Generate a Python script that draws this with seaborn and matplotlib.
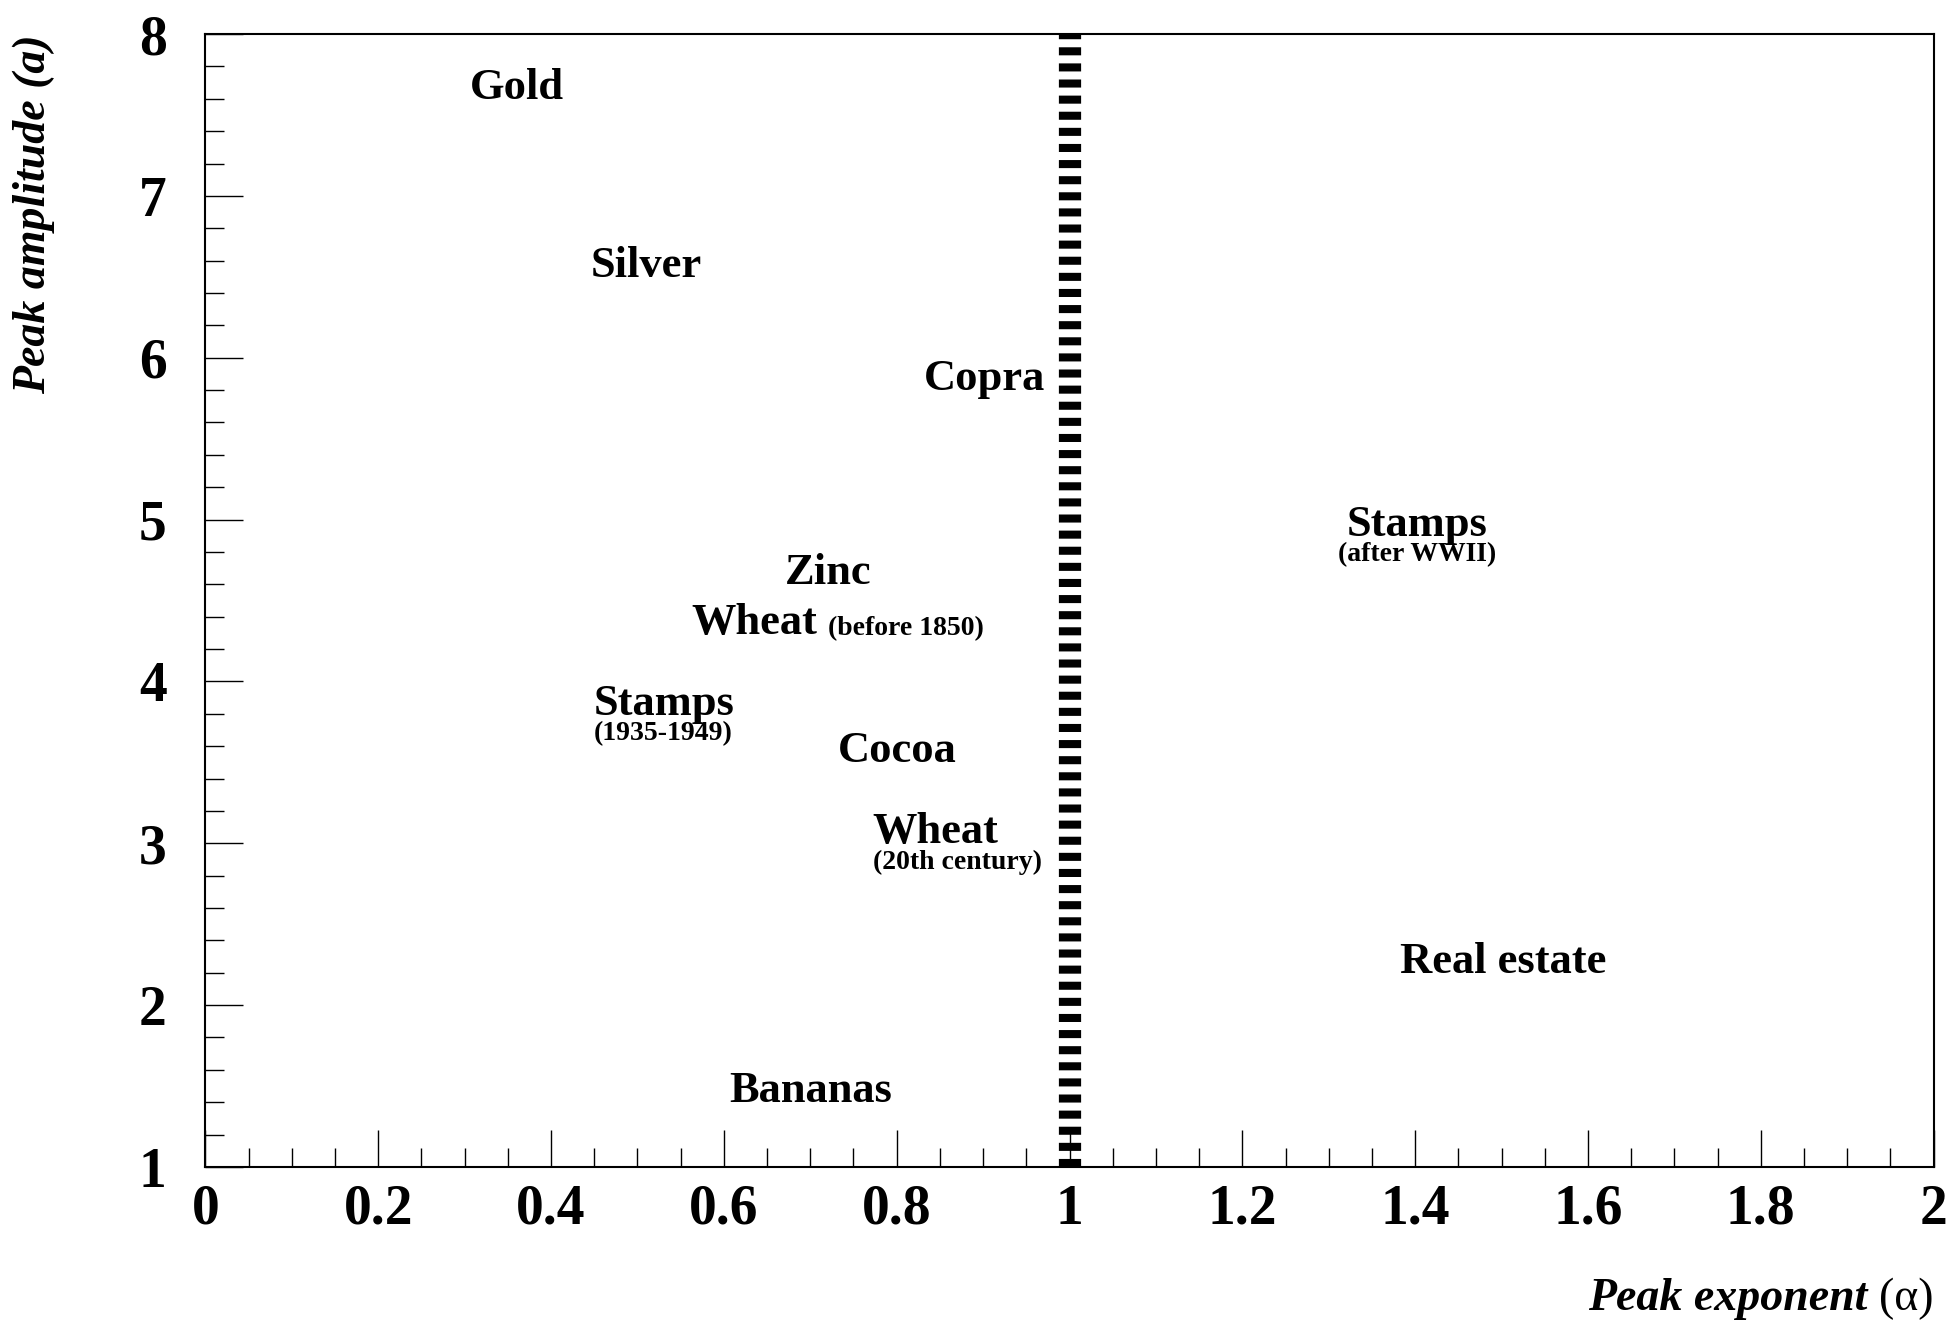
import matplotlib
matplotlib.use("Agg")
import matplotlib.pyplot as plt
import seaborn as sns
import pandas as pd
from matplotlib.ticker import MultipleLocator, FuncFormatter

# label positions (peak exponent, peak amplitude)
names = ["Gold", "Silver", "Copra", "Stamps", "Zinc", "Wheat", "Stamps",
         "Cocoa", "Wheat", "Real estate", "Bananas"]
alpha_vals = [0.360, 0.510, 0.902, 1.402, 0.721, 0.635, 0.531,
              0.801, 0.845, 1.502, 0.701]
amp_vals = [7.69, 6.59, 5.89, 4.985, 4.69, 4.385, 3.885,
            3.59, 3.09, 2.29, 1.49]
subs = ["", "", "", "(after WWII)", "", "(before 1850)", "(1935-1949)",
        "", "(20th century)", "", ""]
sub_pos = ["", "", "", "center", "", "right", "left", "", "left", "", ""]

critical_x = [1, 1]
critical_y = [1, 8]

sns.set_theme(style="white")
plt.rcParams['font.family'] = ['Liberation Serif', 'DejaVu Serif']
plt.rcParams['lines.scale_dashes'] = False
for key in ['text.color', 'axes.labelcolor', 'xtick.color', 'ytick.color']:
    plt.rcParams[key] = 'black'

fig = plt.figure(figsize=(19.57, 13.24), dpi=100)
ax = fig.add_axes([0.105, 0.1186, 0.883, 0.8557])

line_df = pd.DataFrame({'x': critical_x, 'y': critical_y})
sns.lineplot(data=line_df, x='x', y='y', estimator=None, sort=False, ax=ax,
             color='black', linewidth=16, linestyle=(0, (5.8, 5.8)))

for name, xv, yv, sub, pos in zip(names, alpha_vals, amp_vals, subs, sub_pos):
    t = ax.annotate(name, xy=(xv, yv), xytext=(0, -2.5),
                    textcoords='offset points', ha='center', va='center',
                    fontsize=32, fontweight='bold', color='black')
    if pos == "left":
        ax.annotate(sub, xy=(0, 0.5), xycoords=t, xytext=(0, -21.5),
                    textcoords='offset points', ha='left', va='center',
                    fontsize=20, fontweight='bold')
    elif pos == "center":
        ax.annotate(sub, xy=(0.5, 0.5), xycoords=t, xytext=(0, -21),
                    textcoords='offset points', ha='center', va='center',
                    fontsize=20, fontweight='bold')
    elif pos == "right":
        ax.annotate(sub, xy=(1, 0.5), xycoords=t, xytext=(8, -4),
                    textcoords='offset points', ha='left', va='center',
                    fontsize=20, fontweight='bold')

ax.set_xlim(0, 2)
ax.set_ylim(1, 8)
ax.xaxis.set_major_locator(MultipleLocator(0.2))
ax.xaxis.set_minor_locator(MultipleLocator(0.05))
ax.yaxis.set_major_locator(MultipleLocator(1))
ax.yaxis.set_minor_locator(MultipleLocator(0.2))
fmt = FuncFormatter(lambda v, p: "%g" % round(v, 3))
ax.xaxis.set_major_formatter(fmt)
ax.yaxis.set_major_formatter(fmt)

ax.tick_params(which='both', direction='in', top=False, right=False,
               bottom=True, left=True, color='black', width=1)
ax.tick_params(which='major', length=27)
ax.tick_params(which='minor', length=13.5)
ax.tick_params(axis='x', which='major', pad=12, labelsize=40)
ax.tick_params(axis='y', which='major', pad=28, labelsize=40)
for lab in ax.get_xticklabels() + ax.get_yticklabels():
    lab.set_fontweight('bold')

for sp in ax.spines.values():
    sp.set_color('black')
    sp.set_linewidth(1.5)

ax.set_xlabel("")
ax.set_ylabel("")
ax.text(-0.0995, 1.0, "Peak amplitude (a)", transform=ax.transAxes,
        rotation=90, ha='center', va='top', fontsize=33,
        fontweight='bold', fontstyle='italic')
alpha_txt = ax.text(1.0, -0.1262, "(α)", transform=ax.transAxes,
                    ha='right', va='baseline', fontsize=33)
ax.annotate("Peak exponent ", xy=(0, 0), xycoords=alpha_txt,
            ha='right', va='bottom', fontsize=33,
            fontweight='bold', fontstyle='italic')

fig.savefig("out.png", dpi=100)
